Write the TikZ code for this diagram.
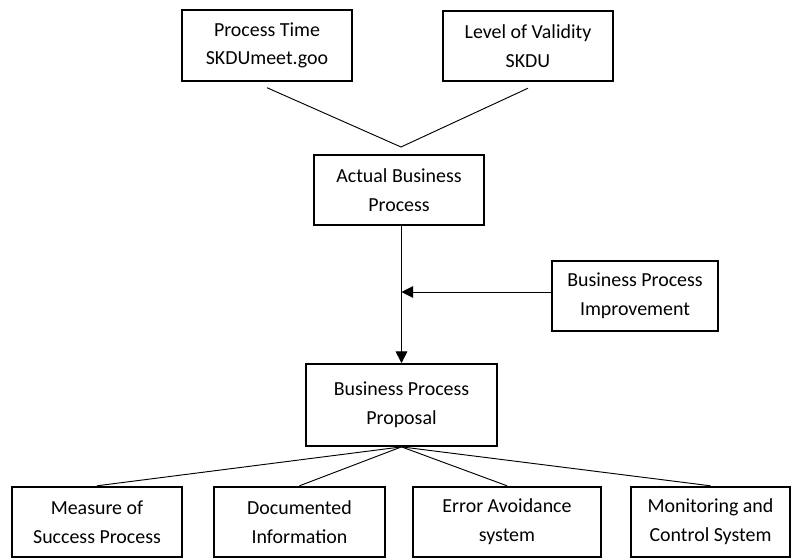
\documentclass[tikz,border=0pt]{standalone}
\usepackage{fontspec}
\setmainfont{Carlito}
\usetikzlibrary{arrows.meta}

\begin{document}
\begin{tikzpicture}[x=0.03cm, y=-0.03cm,
  box/.style={draw, line width=1.5pt, align=center, inner sep=0pt,
    minimum height=2.12cm, font=\fontsize{17}{24.5}\selectfont},
  link/.style={line width=0.8pt},
  flow/.style={line width=0.8pt, -{Triangle[length=10pt, width=10pt]}}]
\useasboundingbox (0,0) rectangle (791,559);

%top
\node[box, minimum width=5.1cm] (pt) at (267,45.5) {Process Time\\SKDUmeet.goo};
\node[box, minimum width=5.1cm] (lv) at (528,46) {Level of Validity\\SKDU};
\coordinate (join) at (401,147);
\draw[link] ([yshift=-0.18cm]pt.south) -- (join) -- ([yshift=-0.18cm]lv.south);

%middle
\node[box, minimum width=5.1cm] (abp) at (399,190) {Actual Business\\Process};
\node[box, minimum width=4.98cm] (bpi) at (635,296) {Business Process\\Improvement};
\node[box, minimum width=5.73cm, minimum height=2.46cm] (bpp) at (401.5,405) {Business Process\\Proposal};
\draw[flow] (abp.south -| bpp.north) -- (bpp.north);
\draw[flow] ([yshift=0.12cm]bpi.west) -- ([yshift=0.12cm]bpi.west -| bpp.north);

%bottom
\node[box, minimum width=5.1cm] (msp) at (97,522) {Measure of\\Success Process};
\node[box, minimum width=5.13cm] (doc) at (299.5,522) {Documented\\Information};
\node[box, minimum width=5.64cm] (err) at (507,522) {Error Avoidance\\system};
\node[box, minimum width=4.77cm] (mon) at (710.5,522) {Monitoring and\\Control System};
\foreach \n in {msp, doc, err, mon} {\draw[link] (bpp.south) -- (\n.north);}
\end{tikzpicture}
\end{document}
